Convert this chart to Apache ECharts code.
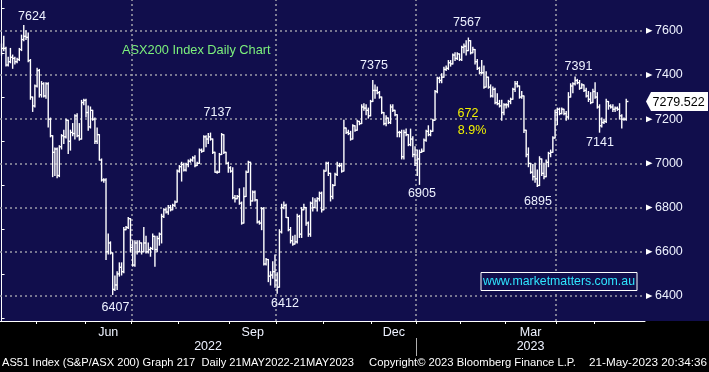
<!DOCTYPE html>
<html><head><meta charset="utf-8">
<script src="https://cdn.jsdelivr.net/npm/echarts@6/dist/echarts.min.js"></script>
<style>html,body{margin:0;padding:0;background:#000;}#c{width:709px;height:372px;}</style>
</head><body><div id="c"></div>
<script>
// ---- data ----
const highs = [7540,7575,7525,7480,7520,7490,7480,7475,7520,7580,
7624,7600,7590,7470,7300,7355,7430,7425,7370,7365,
7365,7365,7205,7125,7070,7070,7080,7130,7150,7200,
7195,7150,7180,7220,7225,7180,7285,7290,7290,7260,
7255,7240,7205,7160,7130,7020,6930,6930,6680,6645,
6595,6490,6510,6550,6550,6710,6715,6755,6750,6650,
6650,6650,6650,6640,6710,6670,6640,6620,6680,6640,
6670,6685,6770,6795,6795,6810,6810,6815,6830,6970,
6990,7005,7000,7000,7015,7020,7030,7035,7005,7065,
7065,7125,7125,7135,7137,7110,7050,6965,7045,7135,
7127,7050,7005,6985,6980,6855,6855,6885,6825,6890,
6965,7010,7005,6875,6875,6835,6740,6800,6800,6570,
6565,6510,6555,6585,6505,6700,6815,6825,6815,6755,
6710,6670,6675,6770,6765,6800,6815,6800,6735,6825,
6845,6840,6845,6870,6870,6970,7005,7005,6955,6905,
6955,7005,7000,7000,7195,7160,7150,7145,7175,7170,
7195,7190,7265,7270,7265,7250,7285,7375,7355,7345,
7325,7300,7230,7215,7205,7265,7265,7240,7220,7145,
7150,7150,7155,7130,7155,7120,7075,7060,7060,7065,
7110,7150,7170,7150,7200,7330,7390,7390,7405,7435,
7440,7465,7465,7495,7500,7500,7495,7530,7540,7555,
7567,7555,7525,7515,7470,7435,7465,7440,7415,7390,
7355,7345,7340,7315,7285,7285,7270,7270,7285,7295,
7340,7370,7370,7350,7325,7305,7150,7070,7000,6995,
7000,6970,7030,7020,7000,7015,7050,7060,7120,7240,
7250,7250,7250,7245,7235,7320,7360,7365,7391,7380,
7375,7360,7355,7340,7325,7320,7335,7365,7320,7265,
7205,7200,7290,7280,7265,7265,7255,7255,7270,7220,
7205,7290];
const lows = [7490,7510,7440,7440,7455,7430,7450,7455,7465,7510,
7555,7560,7460,7290,7235,7255,7345,7300,7300,7300,
7295,7165,7120,6940,6945,6935,6940,7065,7090,7115,
7045,7060,7125,7110,7120,7105,7110,7265,7210,7150,
7160,7195,7090,7090,7015,6920,6915,6565,6590,6590,
6407,6425,6430,6490,6495,6505,6700,6705,6600,6535,
6535,6590,6600,6590,6635,6595,6595,6580,6610,6535,
6600,6630,6640,6755,6775,6770,6785,6790,6805,6825,
6960,6920,6965,6965,6985,7005,7010,6985,6990,7000,
7050,7055,7075,7090,7105,7045,6960,6955,6960,7040,
7045,7000,6960,6960,6840,6825,6845,6815,6725,6730,
6850,6960,6810,6830,6830,6730,6725,6700,6540,6540,
6465,6450,6480,6440,6412,6440,6685,6795,6755,6695,
6640,6630,6640,6640,6665,6665,6790,6720,6670,6670,
6785,6800,6785,6830,6780,6790,6965,6945,6830,6840,
6900,6945,6985,6960,6965,7135,7130,7105,7110,7145,
7150,7175,7180,7240,7220,7205,7215,7280,7295,7315,
7295,7225,7175,7170,7180,7180,7235,7215,7120,7120,
7020,7020,7125,7080,7080,7030,6990,6945,6905,7050,
7055,7100,7125,7125,7145,7195,7320,7365,7365,7390,
7420,7425,7440,7450,7465,7470,7465,7465,7500,7490,
7510,7495,7500,7450,7425,7405,7405,7340,7345,7340,
7300,7300,7270,7265,7255,7195,7220,7250,7255,7270,
7290,7325,7345,7295,7295,7140,7030,6985,6955,6925,
6915,6895,6900,6945,6930,6940,6985,7030,7050,7115,
7175,7220,7225,7220,7195,7200,7300,7320,7355,7360,
7335,7340,7325,7300,7280,7270,7275,7295,7250,7141,
7165,7180,7185,7245,7250,7235,7235,7240,7200,7160,
7195,7195];
const closes = [7520,7520,7445,7460,7480,7475,7460,7470,7515,7560,
7575,7570,7465,7300,7260,7350,7420,7310,7360,7305,
7360,7200,7125,7050,7065,6945,7075,7125,7120,7195,
7100,7140,7135,7215,7125,7110,7275,7285,7230,7165,
7240,7200,7100,7130,7015,6925,6925,6600,6640,6595,
6430,6450,6500,6530,6510,6700,6710,6750,6620,6540,
6640,6600,6640,6600,6640,6600,6610,6615,6670,6610,
6660,6680,6760,6790,6780,6800,6790,6810,6825,6965,
6985,6995,6970,6995,7010,7015,7025,6990,7000,7060,
7055,7120,7110,7120,7110,7050,6960,6960,7040,7130,
7050,7000,6980,6965,6845,6840,6850,6820,6730,6850,
6960,7005,6830,6870,6835,6735,6730,6795,6545,6565,
6490,6495,6510,6470,6440,6690,6800,6810,6755,6700,
6650,6635,6645,6760,6680,6790,6800,6730,6680,6820,
6800,6830,6840,6865,6790,6965,7000,6955,6850,6900,
6950,6990,6990,6965,7160,7140,7135,7110,7170,7150,
7190,7180,7255,7250,7240,7215,7280,7330,7330,7320,
7300,7230,7180,7205,7185,7255,7240,7220,7140,7140,
7030,7140,7130,7085,7110,7040,7000,7020,7050,7055,
7105,7145,7130,7145,7195,7325,7385,7375,7390,7425,
7430,7455,7450,7490,7475,7495,7470,7525,7530,7510,
7555,7500,7515,7460,7430,7410,7410,7345,7390,7345,
7305,7335,7275,7270,7260,7230,7265,7265,7280,7290,
7335,7360,7350,7300,7305,7150,7040,7000,6960,6940,
6930,6900,7020,6955,6940,7005,7045,7050,7115,7230,
7245,7225,7245,7225,7210,7300,7350,7360,7375,7365,
7340,7355,7330,7305,7290,7275,7325,7300,7255,7170,
7185,7190,7280,7260,7255,7245,7250,7245,7215,7200,
7200,7280];
const lastPrice = 7279.522;
// first bar index of each month (May 2022 .. May 2023)
const monthStartIdx = [16,38,59,80,103,124,145,167,187,207,227,250,267];
const monthNames = ['May','Jun','Jul','Aug','Sep','Oct','Nov','Dec','Jan','Feb','Mar','Apr','May'];
const labelledMonths = ['Jun','Sep','Dec','Mar'];
const gridMonths = ['Jul','Oct','Jan','Apr'];
const yearLabels = ['2022','2023'];
const yLabelValues = [6400,6600,6800,7000,7200,7400,7600];
const yMinorValues = [6300,6500,6700,6900,7100,7300,7500,7700];
const peakLabels = ['7624','7137','6407','7375','6412','6905','7567','6895','7391','7141'];
const moveLabels = ['672','8.9%'];
const titleText = 'ASX200 Index Daily Chart';
const siteText = 'www.marketmatters.com.au';
const footerTexts = ['AS51 Index (S&P/ASX 200) Graph 217  Daily 21MAY2022-21MAY2023','Copyright\u00a9 2023 Bloomberg Finance L.P.','21-May-2023 20:34:36'];

// ---- layout / style ----
const NAVY = '#110e4c';
const FONT = '"Liberation Sans", Arial, sans-serif';
const TXT = '#eef2ff';
const peakPos = [[32,17],[217.5,113],[115.5,308],[374,66],[285,304],[422,194],[467,23],[538,202],[578.5,67],[600,143]];
const movePos = [[468,114],[472,131]];
const footerPos = [[2,352],[369,207],[589,118]];

const X_MIN = -0.69, X_MAX = 289.45, Y_MIN = 6287, Y_MAX = 7739;

const bars = highs.map((h, i) => [i, h, lows[i], closes[i], i > 0 ? closes[i - 1] : closes[i]]);
const bounds = monthStartIdx.map(i => i - 0.5);
const labelVals = [], labelMap = {};
labelledMonths.forEach(m => {
  const k = monthNames.indexOf(m);
  const v = (bounds[k] + bounds[k + 1]) / 2;
  labelVals.push(v); labelMap[v.toFixed(2)] = m;
});
const gridX = gridMonths.map(m => bounds[monthNames.indexOf(m)]);

function renderItem(params, api) {
  const i = api.value(0), h = api.value(1), l = api.value(2), c = api.value(3), pc = api.value(4);
  const top = api.coord([i, Math.max(h, pc, c)]);
  const bot = api.coord([i, Math.min(l, pc, c)]);
  const cl = api.coord([i, c]);
  const nx = api.coord([i + 1, c]);
  const st = { stroke: '#ffffff', lineWidth: 1.4 };
  return { type: 'group', children: [
    { type: 'line', shape: { x1: top[0], y1: top[1] - 0.5, x2: top[0], y2: bot[1] + 0.5 }, style: st },
    { type: 'line', shape: { x1: cl[0], y1: cl[1], x2: nx[0], y2: cl[1] }, style: st }
  ]};
}

const chart = echarts.init(document.getElementById('c'), null, { renderer: 'canvas' });
const gridStyle = { color: '#9a9aa6', width: 1.6, type: [2, 3] };
chart.setOption({
  animation: false,
  backgroundColor: '#000000',
  grid: { left: 0, right: 64, top: 0, bottom: 51, containLabel: false },
  xAxis: {
    type: 'value', min: X_MIN, max: X_MAX,
    axisLine: { show: true, lineStyle: { color: '#ffffff', width: 1 } },
    axisTick: { show: true, customValues: bounds, length: 3, lineStyle: { color: '#ffffff' } },
    axisLabel: { customValues: labelVals, formatter: v => labelMap[v.toFixed(2)] || '', color: TXT, fontFamily: '"Liberation Sans", Arial', fontSize: 12.5, margin: 5 },
    splitLine: { show: false }
  },
  yAxis: {
    type: 'value', position: 'right', min: Y_MIN, max: Y_MAX,
    axisLine: { show: true, lineStyle: { color: '#ffffff', width: 1 } },
    axisTick: { show: true, customValues: yMinorValues, length: 3, lineStyle: { color: '#ffffff' } },
    axisLabel: { customValues: yLabelValues, formatter: v => String(v), color: TXT, fontFamily: '"Liberation Sans", Arial', fontSize: 12.5, margin: 10 },
    splitLine: { show: false }
  },
  series: [
    { type: 'line', data: [[X_MIN, Y_MIN]], showSymbol: false, lineStyle: { opacity: 0 }, z: 1, silent: true,
      markLine: { silent: true, symbol: 'none', label: { show: false }, lineStyle: gridStyle, animation: false,
        data: yLabelValues.map(v => ({ yAxis: v })).concat(gridX.map(v => ({ xAxis: v }))) } },
    { type: 'custom', renderItem: renderItem, data: bars, clip: true, z: 5, silent: true,
      encode: { x: 0, y: [1, 2, 3, 4] } }
  ]
});

// ---- decorations positioned through the axes ----
const mctx = document.createElement('canvas').getContext('2d');
function fitText(text, x, yc, w, size, color) {
  const font = size + 'px ' + FONT;
  mctx.font = font;
  const mw = mctx.measureText(text).width;
  return { type: 'text', x: x, y: yc, scaleX: w / mw, silent: true, z: 20,
    style: { text: text, font: font, fill: color, align: 'left', verticalAlign: 'middle' } };
}
function txt(text, x, y, color, align) {
  return { type: 'text', x: x, y: y, silent: true, z: 20,
    style: { text: text, font: '12.5px ' + FONT, fill: color, align: align || 'center', verticalAlign: 'middle' } };
}
const g = [];
g.push({ type: 'rect', shape: { x: 0, y: 0, width: 709, height: 321 }, style: { fill: NAVY }, z: -10, silent: true });
// axis triangles on major values
const axX = chart.convertToPixel({ xAxisIndex: 0 }, X_MAX);
yLabelValues.forEach(v => {
  const y = chart.convertToPixel({ yAxisIndex: 0 }, v);
  g.push({ type: 'polygon', silent: true, z: 20, shape: { points: [[axX + 1, y - 3], [axX + 7.5, y], [axX + 1, y + 3]] }, style: { fill: '#ffffff' } });
});
// last price tag
const yp = chart.convertToPixel({ yAxisIndex: 0 }, lastPrice);
g.push({ type: 'polygon', silent: true, z: 20, shape: { points: [[axX + 1, yp], [axX + 6, yp - 9.5], [708, yp - 9.5], [708, yp + 9.5], [axX + 6, yp + 9.5]] }, style: { fill: '#ffffff' } });
g.push({ type: 'text', x: axX + 7.5, y: yp + 0.5, silent: true, z: 21, style: { text: lastPrice.toFixed(3), font: '12.5px ' + FONT, fill: '#000000', align: 'left', verticalAlign: 'middle' } });
// title and annotations
g.push({ type: 'text', x: 122, y: 50.5, silent: true, z: 20, style: { text: titleText, font: '12.8px ' + FONT, fill: '#7cf07c', align: 'left', verticalAlign: 'middle' } });
peakLabels.forEach((t, k) => g.push(txt(t, peakPos[k][0], peakPos[k][1], TXT)));
moveLabels.forEach((t, k) => g.push(txt(t, movePos[k][0], movePos[k][1], '#f2f200')));
// website box
g.push({ type: 'rect', silent: true, z: 20, shape: { x: 481, y: 272.5, width: 156, height: 18 }, style: { fill: NAVY, stroke: '#ffffff', lineWidth: 1 } });
g.push(fitText(siteText, 483, 282, 152, 12.5, '#2fe6ff'));
// year labels and separator
const yrB = chart.convertToPixel({ xAxisIndex: 0 }, bounds[monthNames.indexOf('Jan')]);
const x0 = chart.convertToPixel({ xAxisIndex: 0 }, X_MIN);
g.push({ type: 'line', silent: true, z: 20, shape: { x1: Math.round(yrB) + 0.5, y1: 338, x2: Math.round(yrB) + 0.5, y2: 356 }, style: { stroke: '#b0b0b0', lineWidth: 1 } });
g.push(txt(yearLabels[0], (x0 + yrB) / 2, 347, TXT));
g.push(txt(yearLabels[1], (yrB + axX) / 2, 347, TXT));
// footer
footerTexts.forEach((t, k) => g.push(fitText(t, footerPos[k][0], 363, footerPos[k][1], 11.5, '#ffffff')));
chart.setOption({ graphic: g });
</script>
</body></html>
